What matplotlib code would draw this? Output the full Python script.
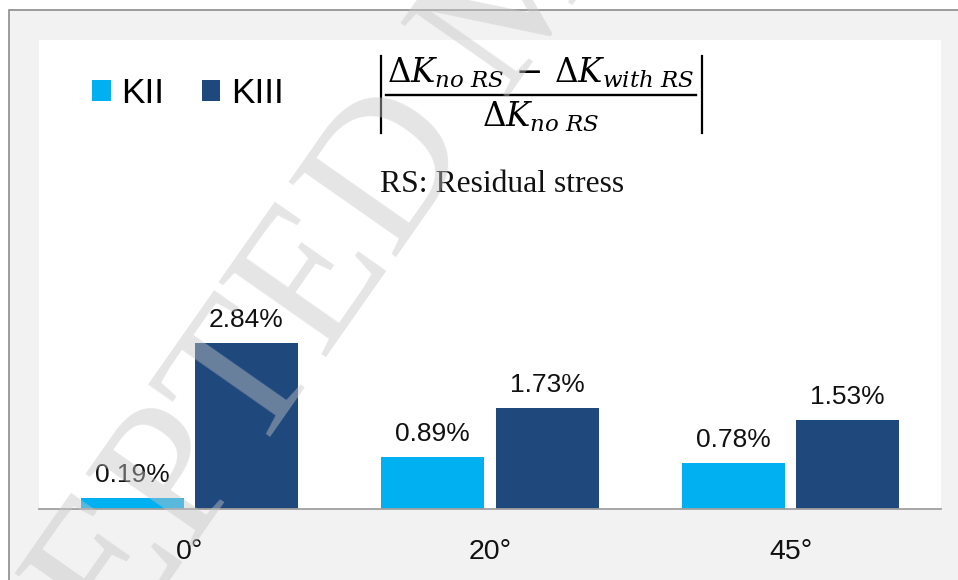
import numpy as np
import matplotlib
matplotlib.use("Agg")
from matplotlib import pyplot as plt
from matplotlib.patches import Rectangle, Patch
from matplotlib.lines import Line2D

plt.rcParams['font.family'] = ['Liberation Sans', 'DejaVu Sans']
plt.rcParams['mathtext.fontset'] = 'dejavuserif'

angles = ["0°", "20°", "45°"]
kii = [0.19, 0.89, 0.78]    # %
kiii = [2.84, 1.73, 1.53]   # %
labels_kii = ["0.19%", "0.89%", "0.78%"]
labels_kiii = ["2.84%", "1.73%", "1.53%"]

c_kii = "#00b0f0"
c_kiii = "#1f497d"

W, H = 958, 580
fig = plt.figure(figsize=(W / 100, H / 100), dpi=100)
fig.patch.set_facecolor("white")


def fx(px):
    return px / W


def fy(py):
    return (H - py) / H


# grey chart area with border on top/left
frame = Rectangle((fx(9), -0.1), 1.2, fy(10) + 0.1, transform=fig.transFigure,
                  facecolor="#f2f2f2", edgecolor="#8c8c8c", linewidth=1.2, zorder=-5)
fig.patches.append(frame)

ax = fig.add_axes([fx(39), fy(509), fx(941) - fx(39), fy(40) - fy(509)])
ax.set_zorder(1)
ax.set_facecolor("white")

x = np.arange(len(angles))
bw = 0.343
off = 0.19
b1 = ax.bar(x - off, kii, bw, color=c_kii, zorder=2)
b2 = ax.bar(x + off, kiii, bw, color=c_kiii, zorder=2)

for bars, labs in [(b1, labels_kii), (b2, labels_kiii)]:
    for rect, lab in zip(bars, labs):
        ax.annotate(lab, xy=(rect.get_x() + rect.get_width() / 2, rect.get_height()),
                    xytext=(0, 11.5), textcoords="offset points",
                    ha="center", va="baseline", fontsize=19, color="#111111")

ax.set_xlim(-0.5, 2.5)
ax.set_ylim(0, 8.02)
ax.set_xticks(x)
ax.set_xticklabels(angles, fontsize=20.5, color="#111111")
ax.tick_params(axis="x", length=0, pad=21.5)
ax.set_yticks([])
for s in ["top", "right", "left"]:
    ax.spines[s].set_visible(False)
ax.spines["bottom"].set_color("#a0a0a0")
ax.spines["bottom"].set_linewidth(1.3)

handles = [Patch(facecolor=c_kii, label="KII"), Patch(facecolor=c_kiii, label="KIII")]
leg = fig.legend(handles=handles, loc="upper left", bbox_to_anchor=(fx(92), fy(77)),
                 ncol=2, frameon=False, fontsize=25.5, borderpad=0, borderaxespad=0,
                 handlelength=0.53, handleheight=0.53, handletextpad=0.3, columnspacing=1.05)
leg.set_zorder(3)

# formula |(dK_noRS - dK_withRS) / dK_noRS|
num = r'$\Delta K_{no\ RS}\,-\,\Delta K_{with\ RS}$'
den = r'$\Delta K_{no\ RS}$'
fig.text(fx(541), fy(83), num, ha="center", va="baseline", fontsize=23.5, color="black", zorder=3)
fig.text(fx(541), fy(127), den, ha="center", va="baseline", fontsize=23.5, color="black", zorder=3)
fig.add_artist(Line2D([fx(386), fx(696)], [fy(95), fy(95)], color="black", lw=1.7, zorder=3))
fig.add_artist(Line2D([fx(381), fx(381)], [fy(56), fy(133)], color="black", lw=1.6, zorder=3))
fig.add_artist(Line2D([fx(702), fx(702)], [fy(56), fy(133)], color="black", lw=1.6, zorder=3))

fig.text(fx(380), fy(192), "RS: Residual stress", ha="left", va="baseline",
         fontsize=22.8, family="Liberation Serif", color="#111111", zorder=3)

# diagonal watermark
fig.text(fx(-117), fy(990), "ACCEPTED MANUSCRIPT", family="Liberation Serif",
         fontsize=144, color="#c6c6c6", alpha=0.45, rotation=55, rotation_mode="anchor",
         ha="left", va="baseline", zorder=10)

fig.savefig("out.png", dpi=100)
